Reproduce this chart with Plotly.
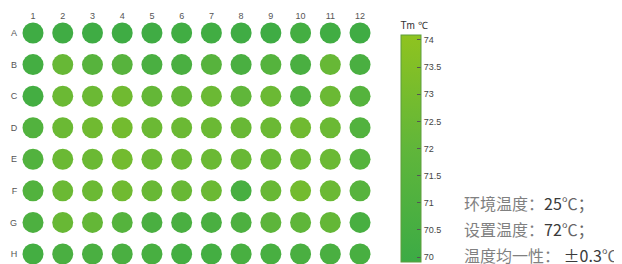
import plotly.graph_objects as go

rows = ["A", "B", "C", "D", "E", "F", "G", "H"]
cols = [str(i) for i in range(1, 13)]

tm_values = [
    [70.1, 70.15, 70.1, 70.1, 70.15, 70.2, 70.2, 70.15, 70.1, 70.4, 70.2, 70.15],
    [70.4, 72.3, 71.5, 71.5, 70.75, 70.7, 71.5, 70.75, 71.35, 70.75, 72.3, 70.75],
    [70.4, 72.5, 72.5, 72.7, 72.2, 72.2, 72.5, 72.0, 72.5, 71.2, 72.5, 71.35],
    [71.2, 72.5, 72.7, 72.85, 72.5, 72.5, 72.5, 72.35, 72.5, 72.7, 72.5, 71.2],
    [71.2, 72.5, 72.5, 72.85, 72.5, 72.5, 72.5, 72.35, 72.35, 72.5, 72.5, 71.35],
    [71.2, 72.5, 72.5, 72.7, 72.35, 72.35, 72.5, 70.6, 72.35, 72.85, 72.5, 71.5],
    [70.9, 72.35, 72.2, 71.35, 70.75, 70.75, 70.75, 70.9, 71.8, 71.95, 72.2, 70.6],
    [70.4, 70.75, 70.75, 70.75, 70.6, 70.4, 70.4, 70.6, 70.6, 70.75, 70.75, 70.6],
]

cb_ticks = [70, 70.5, 71, 71.5, 72, 72.5, 73, 73.5, 74]
info_labels = ["环境温度：", "设置温度：", "温度均一性： "]
info_values = ["25", "72", "±0.3"]
info_units = ["℃；", "℃；", "℃"]

# page has an 8px body margin; work in window pixels and convert
OFF = 8
W, H = 622 - OFF, 264 - OFF


def px_x(p):
    return (p - OFF) / W


def px_y(p):
    return 1 - (p - OFF) / H


xs, ys, zs, texts = [], [], [], []
for ri, r in enumerate(rows):
    for ci, c in enumerate(cols):
        xs.append(ci + 1)
        ys.append(ri + 1)
        zs.append(tm_values[ri][ci])
        texts.append(f"{r}{c}: {tm_values[ri][ci]}")

colorscale = [[0, "#3cab45"], [0.5, "#60b63a"], [1, "#8fc31f"]]

fig = go.Figure()
fig.add_trace(go.Scatter(
    x=xs, y=ys, mode="markers", text=texts, hoverinfo="text",
    marker=dict(
        size=21, color=zs, colorscale=colorscale, cmin=69.91, cmax=74.09,
        line=dict(width=0),
        colorbar=dict(
            title=dict(text="Tm ℃", side="top", font=dict(size=10, color="#333")),
            x=px_x(401), xanchor="left", y=px_y(19), yanchor="top",
            lenmode="pixels", len=243, thickness=20,
            xpad=0, ypad=0,
            tickvals=cb_ticks, ticktext=[f"{t:g}" for t in cb_ticks],
            ticks="inside", ticklen=4, tickcolor="#555",
            tickfont=dict(size=9, color="#444"),
            outlinecolor="#5f9e3c", outlinewidth=1,
        ),
    ),
    showlegend=False,
))

sx = 29.73
sy = 31.57
top_px = 22
x_left = 33 - sx / 2
fig.update_layout(
    width=W, height=H,
    margin=dict(l=0, r=0, t=0, b=0),
    paper_bgcolor="white", plot_bgcolor="white",
    font=dict(family="Arial, Liberation Sans, sans-serif"),
    xaxis=dict(
        domain=[px_x(x_left), px_x(x_left + 12 * sx)],
        range=[0.5, 12.5], side="top",
        tickvals=list(range(1, 13)), ticktext=cols,
        tickfont=dict(size=9, color="#555"),
        showgrid=False, zeroline=False, showline=False, ticks="",
        fixedrange=True,
    ),
    yaxis=dict(
        domain=[0, px_y(top_px)],
        range=[1 + (264 - 33) / sy, 1 + (top_px - 33) / sy],
        tickvals=list(range(1, 9)), ticktext=rows,
        tickfont=dict(size=9, color="#555"),
        showgrid=False, zeroline=False, showline=False, ticks="",
        fixedrange=True,
    ),
)

for i, (lab, val, unit) in enumerate(zip(info_labels, info_values, info_units)):
    fig.add_annotation(
        xref="paper", yref="paper",
        x=px_x(462), y=px_y(203 + i * 26),
        xanchor="left", yanchor="middle", showarrow=False,
        text=(f"<span style='color:#808080'>{lab}</span>"
              f"<span style='color:#3a3a3a'>{val}</span>"
              f"<span style='color:#666'>{unit}</span>"),
        font=dict(size=16, family="Noto Sans CJK SC, sans-serif", color="#666"),
    )

fig.write_html("out.html")
